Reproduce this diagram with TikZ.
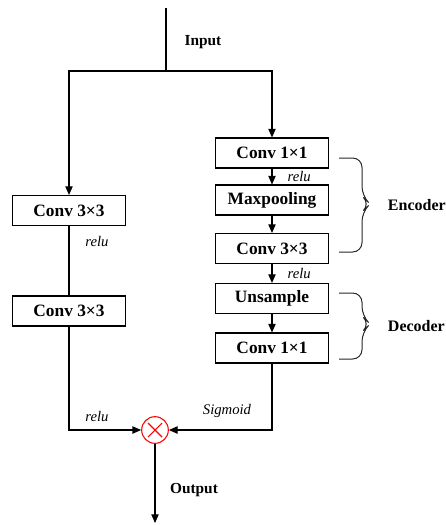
\documentclass[tikz,border=0pt]{standalone}
\usepackage{fontspec}
\setmainfont{Liberation Serif}
\usetikzlibrary{arrows.meta,positioning,calc}

\begin{document}
\begin{tikzpicture}[x=0.75pt,y=-0.75pt,>={Triangle[length=6.5pt,width=5.5pt]},line width=0.8pt]
\tikzstyle{b}=[draw,minimum height=22.5pt,minimum width=85pt,inner sep=0pt,font=\fontsize{13}{15}\selectfont\bfseries]
\tikzstyle{lb}=[font=\fontsize{11}{13}\selectfont\itshape]
\tikzstyle{tt}=[font=\fontsize{11.5}{13}\selectfont\bfseries]
\tikzstyle{br}=[rounded corners=7pt,line width=0.75pt,draw=black!85]
\path[use as bounding box] (0,0) rectangle (446,525);
% input and split
\coordinate (top) at (166,8); \coordinate (split) at (166,71);
\node[tt] (in) at (203,42) {Input};
% left branch
\node[b] (l1) at (69,210.5) {Conv 3×3}; \node[b] (l2) at (69,311) {Conv 3×3};
\node[lb] (lr1) at (97,241) {relu};
% right branch
\node[b] (r1) at (272,153) {Conv 1×1}; \node[b] (r2) at (272,200) {Maxpooling}; \node[b] (r3) at (272,248.5) {Conv 3×3};
\node[b] (r4) at (272,298.5) {Unsample}; \node[b] (r5) at (272,348) {Conv 1×1};
% multiply
\node[circle,draw=red,minimum size=20pt,inner sep=0pt,path picture={\draw[red] ([shift={(-7,-7)}]path picture bounding box.center) -- ([shift={(7,7)}]path picture bounding box.center); \draw[red] ([shift={(-7,7)}]path picture bounding box.center) -- ([shift={(7,-7)}]path picture bounding box.center);}] (m) at (155,430) {};
\coordinate (out) at (155,523);
\node[lb] (lr2) at (97,416) {relu}; \node[lb] (sg) at (227,411) {Sigmoid};
\node[tt] (ot) at (194,490) {Output};
% connectors
\draw (top) -- (split); \draw[->] (split) -| (l1); \draw[->] (split) -| (r1);
\draw (l1) -- (l2);
\draw[->] (r1) -- node[lb,right=8pt]{relu} (r2); \draw[->] (r2) -- (r3);
\draw[->] (r3) -- node[lb,right=8pt]{relu} (r4); \draw[->] (r4) -- (r5);
\draw[->] (l2) |- (m); \draw[->] (r5) |- (m); \draw[->] (m) -- (out);
% braces
\draw[br] (339,158) -| (362,196) -- (370,204) -- (362,212) |- (339,252);
\node[tt,font=\fontsize{12}{14}\selectfont\bfseries,anchor=west] (enc) at (383,205) {Encoder};
\draw[br] (339,293) -| (362,316) -- (370,324) -- (362,332) |- (339,359);
\node[tt,font=\fontsize{12}{14}\selectfont\bfseries,anchor=west] (dec) at (383,326) {Decoder};
\end{tikzpicture}
\end{document}
